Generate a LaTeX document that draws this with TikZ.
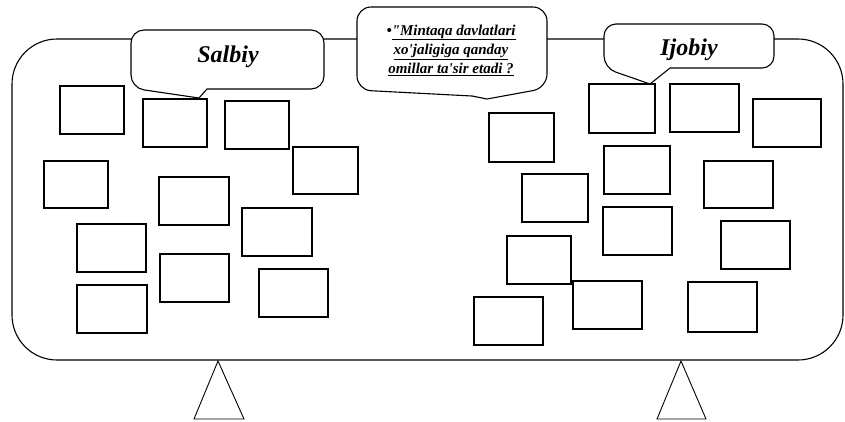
\documentclass[tikz,border=0pt]{standalone}
\usepackage{fontspec}
\newfontfamily\calloutfont{Liberation Serif}
\tikzset{
  cell/.style={draw, line width=1.3pt, inner sep=0pt},
  bubble/.style={draw, fill=white, line width=1.1pt},
  bubbletext/.style={font=\calloutfont\fontsize{24}{28}\selectfont\bfseries\itshape}
}
\begin{document}
\begin{tikzpicture}[x=1pt,y=-1pt]
        \useasboundingbox (0,0) rectangle (845,421);
        %% frame
        \draw[line width=1.1pt,rounded corners=45pt] (12,39) rectangle (843,360);
        %% supports
        \draw[line width=0.9pt] (194,419) -- (218,361) -- (244,419) -- cycle;
        \draw[line width=0.9pt] (657,419) -- (681,361) -- (706,419) -- cycle;
        %% salbiy boxes
        \foreach \x/\y/\w/\h [count=\i] in {92/110/64/48, 175/123/64/48, 257/125/64/48,
            325.5/170.5/65/47, 76/184.5/64/47, 194/201/70/48, 277/232/70/48,
            111.5/248/69/48, 194.5/278/69/48, 293.5/293/69/48, 112/309/70/48}
          \node[cell, minimum width=\w pt, minimum height=\h pt] (s\i) at (\x,\y) {};
        %% ijobiy boxes
        \foreach \x/\y/\w/\h [count=\i] in {622/108.5/66/49, 704.5/108/69/48, 787/123/68/48,
            521.5/137.5/65/49, 637/170/66/48, 738.5/184.5/69/47, 555/198/66/48,
            637.5/231/69/48, 755.5/245/69/48, 539/260/64/48, 607.5/305/69/48,
            508.5/321/69/48, 722.5/307/69/50}
          \node[cell, minimum width=\w pt, minimum height=\h pt] (i\i) at (\x,\y) {};
        %% callouts
        \draw[bubble] (199,98) [rounded corners=13pt] -- (131,88) -- (131,30) -- (324,30) -- (324,89) [sharp corners] -- (207,89) -- cycle;
        \draw[bubble] (487,99) [rounded corners=14pt] -- (547,88) -- (547,7) -- (357,7) -- (357,90) [sharp corners] -- (472,96) -- cycle;
        \draw[bubble] (650,84) [rounded corners=12pt] -- (604,68) -- (604,24) -- (774,24) -- (774,68) [sharp corners] -- (670,68) -- cycle;
        %% labels
        \node[bubbletext] (salbiy) at (228,57) {Salbiy};
        \node[bubbletext] (ijobiy) at (689,50) {Ijobiy};
        \node[align=center, inner sep=0pt, font=\calloutfont\fontsize{15}{19}\selectfont\bfseries\itshape] (savol) at (451,50)
          {•\underline{"Mintaqa davlatlari}\\ \underline{xo'jaligiga qanday}\\ \underline{omillar ta'sir etadi ?}};
    \end{tikzpicture}
\end{document}
